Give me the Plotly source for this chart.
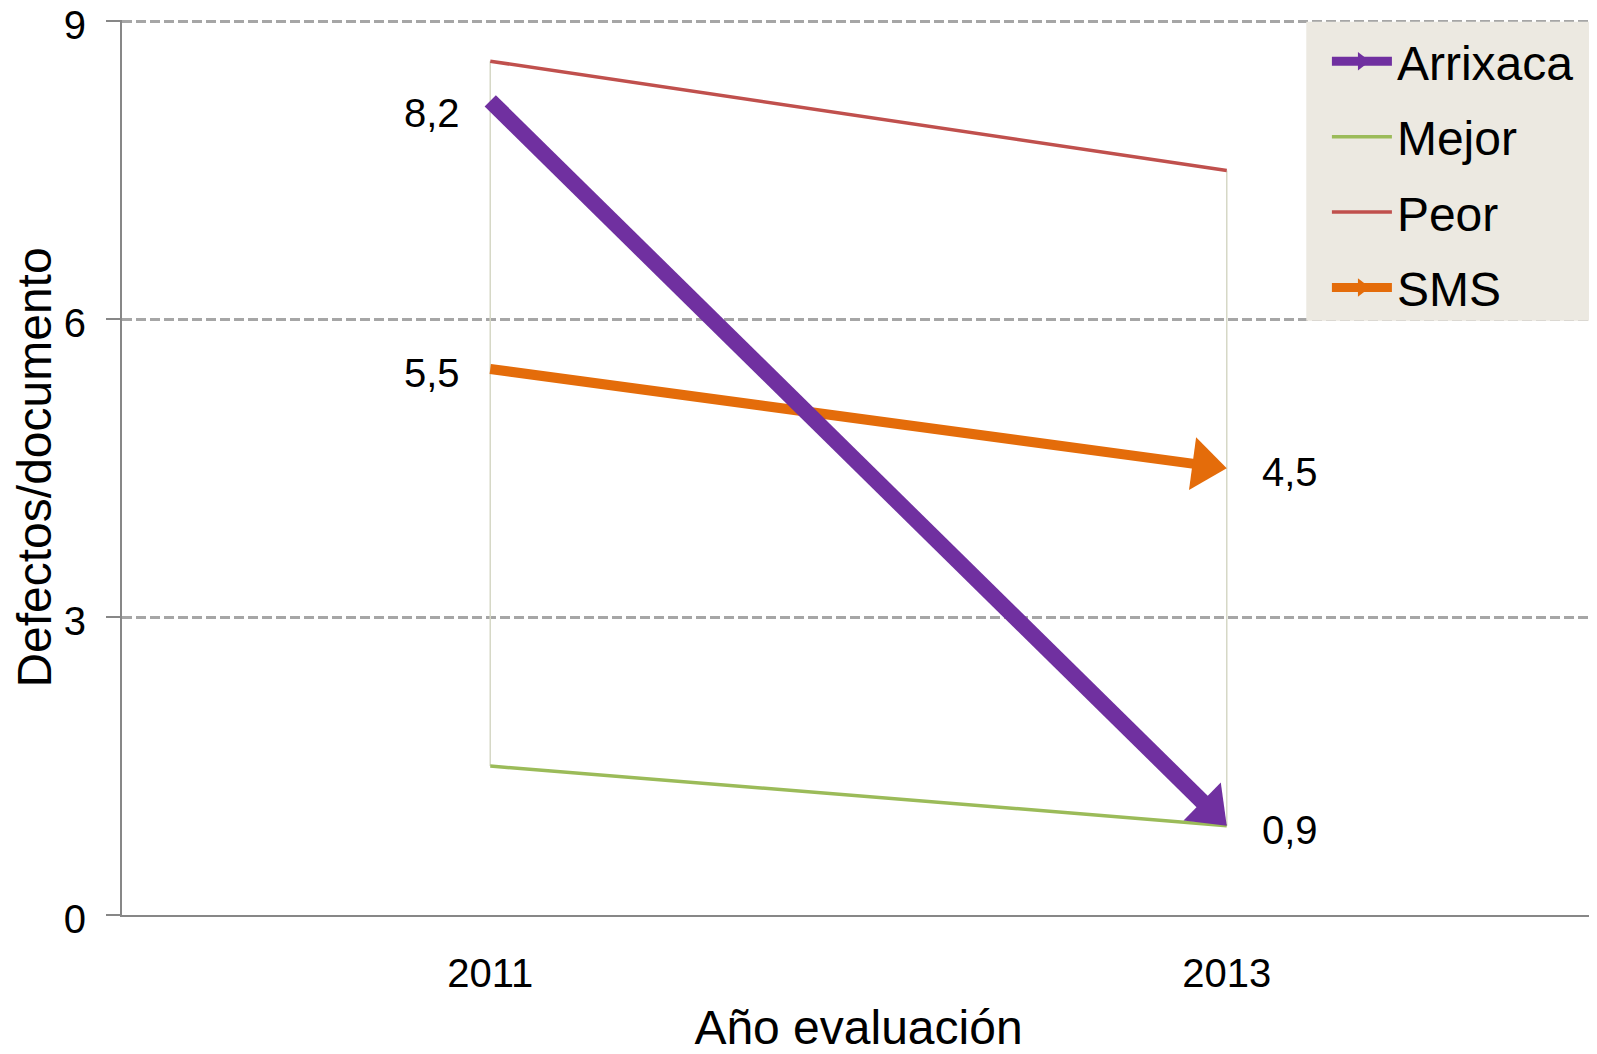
import plotly.graph_objects as go

# values (defects per document)
years = ["2011", "2013"]
arrixaca = [8.2, 0.9]
mejor = [1.5, 0.9]
peor = [8.6, 7.5]
sms = [5.5, 4.5]

PURPLE = "#7030A0"
GREEN = "#9BBB59"
RED = "#C0504D"
ORANGE = "#E46C0A"
FONT = "Liberation Sans, Arial, sans-serif"


def label(v):
    return f"{v:.1f}".replace(".", ",")


fig = go.Figure()

# thin high-low lines joining Mejor and Peor at each year
drop_x, drop_y = [], []
for yr, lo, hi in zip(years, mejor, peor):
    drop_x += [yr, yr, None]
    drop_y += [lo, hi, None]
fig.add_trace(
    go.Scatter(
        x=drop_x, y=drop_y, mode="lines",
        line=dict(color="#D6D8C6", width=1.5),
        showlegend=False, hoverinfo="skip",
    )
)

fig.add_trace(
    go.Scatter(x=years, y=peor, mode="lines", name="Peor",
               line=dict(color=RED, width=3.5), showlegend=False)
)
fig.add_trace(
    go.Scatter(x=years, y=mejor, mode="lines", name="Mejor",
               line=dict(color=GREEN, width=3.5), showlegend=False)
)


def arrow_trace(name, values, color, width, head=46):
    return go.Scatter(
        x=years, y=values, mode="lines+markers", name=name,
        line=dict(color=color, width=width, backoff=16),
        marker=dict(
            symbol=["circle", "triangle-up"],
            size=[width, head],
            standoff=[0, head / 2],
            angleref="previous",
            color=color,
            opacity=1,
            line=dict(width=0),
        ),
        showlegend=False,
    )


fig.add_trace(arrow_trace("SMS", sms, ORANGE, 10))
fig.add_trace(arrow_trace("Arrixaca", arrixaca, PURPLE, 16))

# legend-only entries
legend_items = [
    ("Arrixaca", PURPLE, 9, True),
    ("Mejor", GREEN, 3.5, False),
    ("Peor", RED, 3.5, False),
    ("SMS", ORANGE, 9, True),
]
for name, color, w, arrow in legend_items:
    fig.add_trace(
        go.Scatter(
            x=[None], y=[None], name=name,
            mode="lines+markers" if arrow else "lines",
            line=dict(color=color, width=w),
            marker=dict(symbol="triangle-right", size=30, color=color),
            legendgroup=name,
        )
    )

# value labels (x given as category index); first Arrixaca label sits a bit lower
for series, values in [("Arrixaca", arrixaca), ("SMS", sms)]:
    for i, v in enumerate(values):
        left = i == 0
        fig.add_annotation(
            x=i, y=v, xref="x", yref="y", text=label(v), showarrow=False,
            xanchor="right" if left else "left",
            xshift=-28 if left else 33,
            yshift=-12 if (series == "Arrixaca" and left) else -4,
            font=dict(size=40, color="black", family=FONT),
        )

# legend background panel reaching the right edge
fig.add_shape(
    type="rect", xref="paper", yref="paper", layer="above",
    x0=0.804, x1=1.01, y0=0.664, y1=0.998,
    fillcolor="#ECE9E1", line=dict(width=0),
)

# the page body adds an 8px offset, so the figure is 8px smaller than the window
fig.update_layout(
    width=1589, height=1046,
    margin=dict(l=114, r=2, t=12, b=139),
    paper_bgcolor="white", plot_bgcolor="white",
    font=dict(family=FONT, color="black"),
    legend=dict(
        x=0.818, y=0.996, xanchor="left", yanchor="top",
        bgcolor="rgba(0,0,0,0)", font=dict(size=48, family=FONT),
        tracegroupgap=10, itemwidth=60, traceorder="grouped",
    ),
)
fig.update_xaxes(
    type="category", range=[-0.5, 1.5], automargin=False,
    showline=True, linecolor="#878787", linewidth=2,
    showgrid=False, ticks="", ticklabelstandoff=22,
    tickfont=dict(size=40),
    title=dict(text="Año evaluación", font=dict(size=48), standoff=16),
)
fig.update_yaxes(
    range=[0, 9.015], tickvals=[0, 3, 6, 9], automargin=False,
    showline=True, linecolor="#878787", linewidth=2,
    ticks="outside", ticklen=14, tickcolor="#878787", tickwidth=2,
    showgrid=True, gridcolor="#A6A6A6", gridwidth=2.5, griddash="10px,4px",
    zeroline=False, ticklabelstandoff=12, ticklabeloverflow="allow",
    ticklabelshift=4,
    tickfont=dict(size=40),
    title=dict(text="Defectos/documento", font=dict(size=48), standoff=15),
)

fig.write_html("out.html")
